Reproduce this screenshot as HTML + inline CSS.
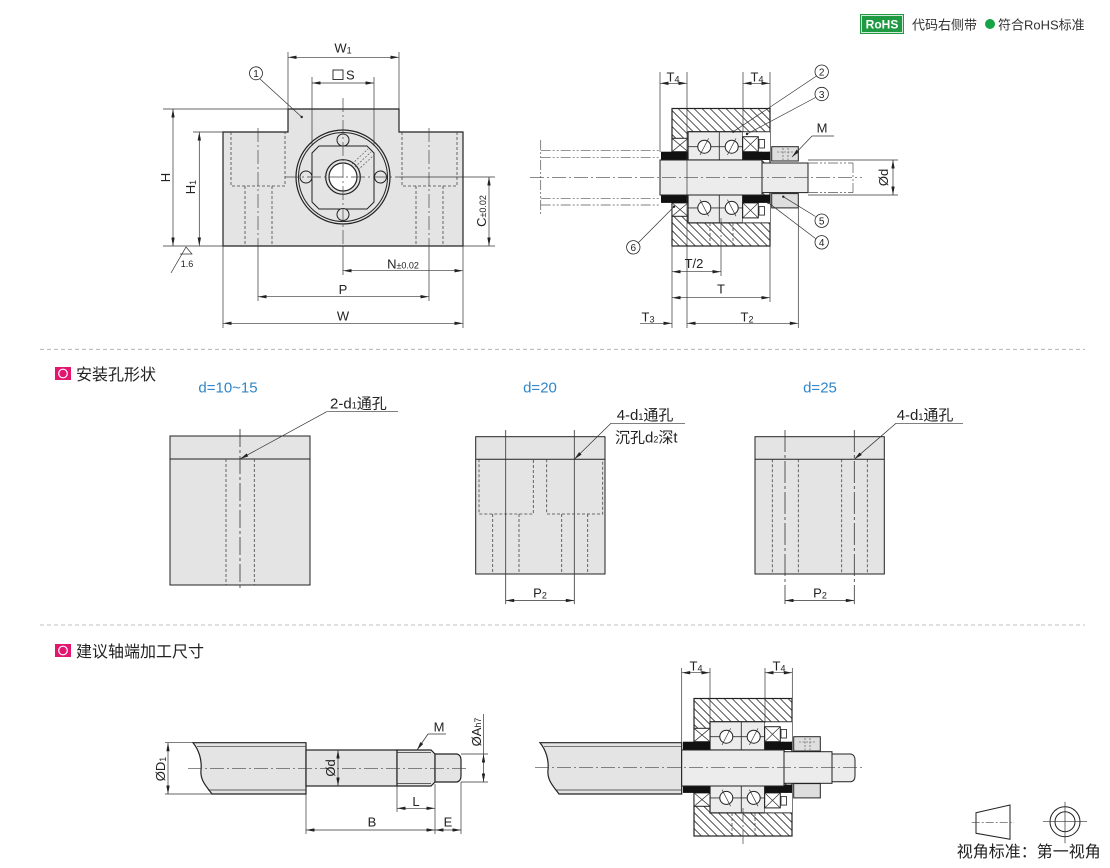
<!DOCTYPE html>
<html><head><meta charset="utf-8">
<style>
html,body{margin:0;padding:0;background:#fff}
svg{display:block}
text{font-family:"Liberation Sans","Noto Sans CJK SC",sans-serif;fill:#222}
.o{stroke:#222;stroke-width:1.2;fill:none}
.t{stroke:#333;stroke-width:0.7;fill:none}
.d{stroke:#444;stroke-width:0.8;stroke-dasharray:3 2;fill:none}
.c{stroke:#444;stroke-width:0.7;stroke-dasharray:14 3 2 3;fill:none}
.p{stroke:#555;stroke-width:0.7;stroke-dasharray:10 2 2 2 2 2;fill:none}
.cj{font-family:"Liberation Sans","Noto Sans CJK SC",sans-serif}
</style></head><body>
<svg width="1110" height="868" viewBox="0 0 1110 868" xmlns="http://www.w3.org/2000/svg" xmlns:xlink="http://www.w3.org/1999/xlink">
<defs>
<marker id="a" viewBox="0 0 10 4" refX="10" refY="2" markerWidth="9" markerHeight="3.4" markerUnits="userSpaceOnUse" orient="auto-start-reverse"><path d="M0,0L10,2L0,4Z" fill="#222"/></marker>
<clipPath id="hc"><rect x="672" y="108.5" width="98" height="137.5"/></clipPath>

<g id="half">
  <rect x="688" y="131.7" width="54.7" height="28.3" class="o" style="fill:#ececec"/>
  <line class="t" x1="719.3" y1="131.7" x2="719.3" y2="160" style="stroke-width:0.9"/>
  <line class="t" x1="688" y1="146.7" x2="742.7" y2="146.7" style="stroke-width:0.9"/>
  <circle cx="704.3" cy="146.7" r="6.5" class="o" style="fill:#fff;stroke-width:1"/>
  <circle cx="731.7" cy="146.7" r="6.5" class="o" style="fill:#fff;stroke-width:1"/>
  <line class="t" x1="700" y1="155" x2="708.6" y2="138.4"/>
  <line class="t" x1="727.4" y1="155" x2="736" y2="138.4"/>
  <rect x="672" y="138.3" width="16" height="13.4" class="o" style="fill:#fff;stroke-width:1"/>
  <path class="t" d="M672,138.3L688,151.7M688,138.3L672,151.7"/>
  <rect x="742.7" y="131.7" width="27.3" height="20" fill="#fff" stroke="none"/>
  <rect x="742.7" y="136.7" width="15.6" height="15" class="o" style="fill:#fff;stroke-width:1"/>
  <path class="t" d="M742.7,136.7L758.3,151.7M758.3,136.7L742.7,151.7"/>
  <rect x="759" y="139.5" width="5.5" height="8.5" class="t" style="fill:#fff;stroke-width:0.9"/>
  <line class="t" x1="742.7" y1="131.7" x2="770" y2="131.7" style="stroke-width:1"/>
  <rect x="661" y="151.7" width="27" height="8.3" fill="#111"/>
  <rect x="742.7" y="151.7" width="27.3" height="8.3" fill="#111"/>
  <rect x="771.7" y="146.7" width="26.6" height="14.3" class="o" style="fill:#dedede;stroke-width:1"/>
</g>

<g id="hs">
  <rect x="672" y="108.5" width="98" height="137.5" fill="#fff"/>
  <path clip-path="url(#hc)" stroke="#333" stroke-width="0.8" fill="none" d="M534,108.5l137.5,137.5M542,108.5l137.5,137.5M550,108.5l137.5,137.5M558,108.5l137.5,137.5M566,108.5l137.5,137.5M574,108.5l137.5,137.5M582,108.5l137.5,137.5M590,108.5l137.5,137.5M598,108.5l137.5,137.5M606,108.5l137.5,137.5M614,108.5l137.5,137.5M622,108.5l137.5,137.5M630,108.5l137.5,137.5M638,108.5l137.5,137.5M646,108.5l137.5,137.5M654,108.5l137.5,137.5M662,108.5l137.5,137.5M670,108.5l137.5,137.5M678,108.5l137.5,137.5M686,108.5l137.5,137.5M694,108.5l137.5,137.5M702,108.5l137.5,137.5M710,108.5l137.5,137.5M718,108.5l137.5,137.5M726,108.5l137.5,137.5M734,108.5l137.5,137.5M742,108.5l137.5,137.5M750,108.5l137.5,137.5M758,108.5l137.5,137.5M766,108.5l137.5,137.5"/>
  <rect x="672" y="108.5" width="98" height="137.5" class="o"/>
  <use xlink:href="#half"/>
  <use xlink:href="#half" transform="matrix(1,0,0,-1,0,354.6)"/>
  <path class="d" d="M710,223V246M733,223V246"/>
  <path class="d" style="stroke-dasharray:2 1.5;stroke-width:0.6" d="M783,148V160M788,148V160M777,152H794"/>
</g>
</defs>

<!-- ===== Header RoHS ===== -->
<rect x="860" y="14" width="44" height="20" fill="#1f9a43"/>
<rect x="861.5" y="15.5" width="41" height="17" fill="none" stroke="#fff" stroke-width="0.8"/>
<text x="882" y="28.5" font-size="12" font-weight="bold" text-anchor="middle" style="fill:#fff">RoHS</text>
<text x="912" y="29.5" font-size="13" class="cj" style="fill:#333">代码右侧带</text>
<circle cx="990" cy="24" r="5" fill="#17a347"/>
<text x="998" y="29.5" font-size="13" class="cj" style="fill:#333">符合RoHS标准</text>

<!-- ===== Front view ===== -->
<path d="M223,132H288V109H399V132H463V246H223Z" class="o" style="fill:#e4e4e4"/>
<path class="d" d="M231,132V186H285V132M245,186V246M272,186V246"/>
<path class="d" d="M402,132V186H457V132M416,186V246M443,186V246"/>
<line class="c" x1="258" y1="128" x2="258" y2="246"/>
<line class="c" x1="429" y1="128" x2="429" y2="246"/>
<line class="t" x1="258" y1="246" x2="258" y2="301"/>
<line class="t" x1="429" y1="246" x2="429" y2="301"/>
<circle cx="343" cy="177" r="47" class="o" style="fill:#e4e4e4"/>
<circle cx="343" cy="177" r="44.5" class="o" style="stroke-width:1"/>
<path class="o" style="stroke-width:1" d="M319,146H367L374,153V202L367,209H319L312,202V153Z"/>
<circle cx="343" cy="177" r="17.3" class="o" style="fill:#e4e4e4"/>
<circle cx="343" cy="177" r="14" class="o" style="fill:#fff"/>
<circle cx="343" cy="140" r="6" class="o" style="fill:#e4e4e4;stroke-width:1"/>
<circle cx="343" cy="214.5" r="6" class="o" style="fill:#e4e4e4;stroke-width:1"/>
<circle cx="306" cy="177" r="6" class="o" style="fill:#e4e4e4;stroke-width:1"/>
<circle cx="380.5" cy="177" r="6" class="o" style="fill:#e4e4e4;stroke-width:1"/>
<path class="d" style="stroke-dasharray:2 1.5;stroke-width:0.6" d="M352,164L368,149M355,167L371,152M358,170L374,155"/>
<line class="c" x1="285" y1="177" x2="400" y2="177"/>
<line class="t" x1="400" y1="177" x2="495" y2="177"/>
<line class="c" x1="343" y1="98" x2="343" y2="246"/>
<line class="t" x1="343" y1="246" x2="343" y2="275"/>
<line class="t" x1="288" y1="52" x2="288" y2="109"/>
<line class="t" x1="399" y1="52" x2="399" y2="109"/>
<line class="t" x1="288" y1="57.3" x2="399" y2="57.3" marker-start="url(#a)" marker-end="url(#a)"/>
<text x="343" y="52.5" font-size="13" text-anchor="middle">W<tspan font-size="9" dy="1">1</tspan></text>
<line class="t" x1="312" y1="77" x2="312" y2="146"/>
<line class="t" x1="374" y1="77" x2="374" y2="146"/>
<line class="t" x1="312" y1="83" x2="374" y2="83" marker-start="url(#a)" marker-end="url(#a)"/>
<rect x="333" y="70" width="10" height="9.5" fill="none" stroke="#222" stroke-width="0.9"/>
<text x="346" y="79.5" font-size="13">S</text>
<line class="t" x1="163" y1="109" x2="288" y2="109"/>
<line class="t" x1="193" y1="132" x2="223" y2="132"/>
<line class="t" x1="163" y1="246" x2="223" y2="246"/>
<line class="t" x1="173" y1="109" x2="173" y2="246" marker-start="url(#a)" marker-end="url(#a)"/>
<line class="t" x1="199.3" y1="132" x2="199.3" y2="246" marker-start="url(#a)" marker-end="url(#a)"/>
<text transform="translate(170,177.5) rotate(-90)" font-size="13" text-anchor="middle">H</text>
<text transform="translate(195,187) rotate(-90)" font-size="13" text-anchor="middle">H<tspan font-size="9" dy="1">1</tspan></text>
<path class="t" d="M171,273L186,247L192,254H180"/>
<text x="187" y="267" font-size="9" text-anchor="middle">1.6</text>
<line class="t" x1="463" y1="246" x2="495" y2="246"/>
<line class="t" x1="489" y1="177" x2="489" y2="246" marker-start="url(#a)" marker-end="url(#a)"/>
<text transform="translate(486,211) rotate(-90)" font-size="13" text-anchor="middle">C<tspan font-size="9">±0.02</tspan></text>
<line class="t" x1="223" y1="246" x2="223" y2="328"/>
<line class="t" x1="463" y1="246" x2="463" y2="328"/>
<line class="t" x1="343" y1="270.7" x2="463" y2="270.7" marker-start="url(#a)" marker-end="url(#a)"/>
<text x="403" y="268.5" font-size="13" text-anchor="middle">N<tspan font-size="9">±0.02</tspan></text>
<line class="t" x1="258" y1="296.7" x2="429" y2="296.7" marker-start="url(#a)" marker-end="url(#a)"/>
<text x="343" y="294" font-size="13" text-anchor="middle">P</text>
<line class="t" x1="223" y1="323.3" x2="463" y2="323.3" marker-start="url(#a)" marker-end="url(#a)"/>
<text x="343" y="320.5" font-size="13" text-anchor="middle">W</text>
<circle cx="256" cy="73.3" r="6.5" fill="#fff" stroke="#222" stroke-width="0.8"/>
<text x="256" y="77" font-size="10" text-anchor="middle">1</text>
<line class="t" x1="260" y1="79" x2="301.7" y2="117"/>
<circle cx="301.7" cy="117" r="1.2" fill="#222"/>

<!-- ===== Side section view ===== -->
<path class="p" d="M540.7,150.7H660M540.7,157.3H660M540.7,198.3H660M540.7,205H660"/>
<line class="p" x1="540.7" y1="140" x2="540.7" y2="215"/>
<use xlink:href="#hs"/>
<rect x="660" y="160" width="102" height="35" class="o" style="fill:#ececec;stroke-width:1"/>
<rect x="762" y="163" width="46" height="29.6" class="o" style="fill:#ececec;stroke-width:1"/>
<path class="p" d="M808,163H853M808,192.6H853M853,163V192.6"/>
<line class="c" x1="530" y1="177.3" x2="862" y2="177.3"/>
<line class="c" x1="721" y1="218" x2="721" y2="246"/>
<line class="t" x1="660" y1="72" x2="660" y2="152"/>
<line class="t" x1="687" y1="72" x2="687" y2="328"/>
<line class="t" x1="743" y1="72" x2="743" y2="132"/>
<line class="t" x1="770" y1="72" x2="770" y2="108"/>
<line class="t" x1="660" y1="83.3" x2="687" y2="83.3" marker-start="url(#a)" marker-end="url(#a)"/>
<line class="t" x1="743" y1="83.3" x2="770" y2="83.3" marker-start="url(#a)" marker-end="url(#a)"/>
<text x="673" y="81.5" font-size="13" text-anchor="middle">T<tspan font-size="9" dy="1">4</tspan></text>
<text x="757" y="81.5" font-size="13" text-anchor="middle">T<tspan font-size="9" dy="1">4</tspan></text>
<line class="t" x1="672" y1="246" x2="672" y2="328"/>
<line class="t" x1="721" y1="246" x2="721" y2="276"/>
<line class="t" x1="770" y1="246" x2="770" y2="302"/>
<line class="t" x1="798.3" y1="208" x2="798.3" y2="328"/>
<line class="t" x1="672" y1="271.7" x2="721" y2="271.7" marker-start="url(#a)" marker-end="url(#a)"/>
<text x="694" y="268" font-size="13" text-anchor="middle">T/2</text>
<line class="t" x1="672" y1="297.7" x2="770" y2="297.7" marker-start="url(#a)" marker-end="url(#a)"/>
<text x="721" y="293.5" font-size="13" text-anchor="middle">T</text>
<line class="t" x1="640" y1="323.3" x2="672" y2="323.3" marker-end="url(#a)"/>
<text x="648" y="321.5" font-size="13" text-anchor="middle">T<tspan font-size="9" dy="1">3</tspan></text>
<line class="t" x1="687" y1="323.3" x2="798.3" y2="323.3" marker-start="url(#a)" marker-end="url(#a)"/>
<text x="747" y="321.5" font-size="13" text-anchor="middle">T<tspan font-size="9" dy="1">2</tspan></text>
<line class="t" x1="808" y1="160" x2="898" y2="160"/>
<line class="t" x1="808" y1="195" x2="898" y2="195"/>
<line class="t" x1="893" y1="160" x2="893" y2="195" marker-start="url(#a)" marker-end="url(#a)"/>
<text transform="translate(888,177.5) rotate(-90)" font-size="13" text-anchor="middle">Ød</text>
<circle cx="821.7" cy="71.7" r="6.7" fill="#fff" stroke="#222" stroke-width="0.8"/>
<text x="821.7" y="75.5" font-size="10" text-anchor="middle">2</text>
<line class="t" x1="816.5" y1="76" x2="733.3" y2="131.7"/>
<circle cx="733.3" cy="131.7" r="1.2" fill="#222"/>
<circle cx="821.7" cy="94" r="6.7" fill="#fff" stroke="#222" stroke-width="0.8"/>
<text x="821.7" y="97.8" font-size="10" text-anchor="middle">3</text>
<line class="t" x1="815.5" y1="97.5" x2="747" y2="134"/>
<circle cx="747" cy="134" r="1.2" fill="#222"/>
<text x="822" y="132.5" font-size="13" text-anchor="middle">M</text>
<line class="t" x1="812" y1="136" x2="834" y2="136"/>
<line class="t" x1="812" y1="136" x2="792" y2="157" marker-end="url(#a)"/>
<circle cx="821.7" cy="220.7" r="6.7" fill="#fff" stroke="#222" stroke-width="0.8"/>
<text x="821.7" y="224.5" font-size="10" text-anchor="middle">5</text>
<line class="t" x1="815.5" y1="216.5" x2="783.3" y2="196.7"/>
<circle cx="783.3" cy="196.7" r="1.2" fill="#222"/>
<circle cx="821.7" cy="242.3" r="6.7" fill="#fff" stroke="#222" stroke-width="0.8"/>
<text x="821.7" y="246" font-size="10" text-anchor="middle">4</text>
<line class="t" x1="815.5" y1="238.5" x2="768.3" y2="202.7"/>
<circle cx="768.3" cy="202.7" r="1.2" fill="#222"/>
<circle cx="633.3" cy="247.3" r="6.7" fill="#fff" stroke="#222" stroke-width="0.8"/>
<text x="633.3" y="251" font-size="10" text-anchor="middle">6</text>
<line class="t" x1="638.5" y1="242.5" x2="674" y2="206.7"/>
<circle cx="674" cy="206.7" r="1.2" fill="#222"/>

<!-- separators -->
<line x1="40" y1="349.3" x2="1085" y2="349.3" stroke="#aaa" stroke-width="0.8" stroke-dasharray="4 3"/>
<line x1="40" y1="625" x2="1085" y2="625" stroke="#aaa" stroke-width="0.8" stroke-dasharray="4 3"/>

<!-- ===== Section 2 ===== -->
<rect x="55" y="367" width="16" height="13" fill="#e2156f"/>
<circle cx="63" cy="373.5" r="4.3" fill="none" stroke="#fff" stroke-width="1.2"/>
<text x="76" y="380" font-size="16" class="cj" style="fill:#222">安装孔形状</text>

<text x="228" y="392.5" font-size="15" text-anchor="middle" style="fill:#2f86c8">d=10~15</text>
<text x="540" y="392.5" font-size="15" text-anchor="middle" style="fill:#2f86c8">d=20</text>
<text x="820" y="392.5" font-size="15" text-anchor="middle" style="fill:#2f86c8">d=25</text>

<rect x="170" y="436" width="140" height="149" class="o" style="fill:#e4e4e4;stroke-width:1"/>
<line class="o" style="stroke-width:1" x1="170" y1="459" x2="310" y2="459"/>
<path class="d" d="M226,459V585M254.3,459V585"/>
<line x1="240" y1="429" x2="240" y2="590" stroke="#333" stroke-width="0.8" stroke-dasharray="18 3 3 3"/>
<text x="330" y="408.5" font-size="15" class="cj">2-d<tspan font-size="9">1</tspan>通孔</text>
<line class="t" x1="326.7" y1="411.7" x2="398" y2="411.7"/>
<line class="t" x1="326.7" y1="411.7" x2="240" y2="459" marker-end="url(#a)"/>

<rect x="475.7" y="436.7" width="129.3" height="137.3" class="o" style="fill:#e4e4e4;stroke-width:1"/>
<line class="o" style="stroke-width:1" x1="475.7" y1="459.3" x2="605" y2="459.3"/>
<path class="d" d="M479,459.3V514H533.3V459.3M546.7,459.3V514H602.7V459.3M492.7,514V574M519,514V574M561.7,514V574M587.7,514V574"/>
<line class="t" x1="505.7" y1="430" x2="505.7" y2="604" style="stroke-width:0.8"/>
<line class="t" x1="574.3" y1="430" x2="574.3" y2="604" style="stroke-width:0.8"/>
<line class="t" x1="505.7" y1="600.5" x2="574.3" y2="600.5" marker-start="url(#a)" marker-end="url(#a)"/>
<text x="540" y="597.5" font-size="13" text-anchor="middle">P<tspan font-size="9" dy="1">2</tspan></text>
<text x="616.7" y="420" font-size="15" class="cj">4-d<tspan font-size="9">1</tspan>通孔</text>
<line class="t" x1="611" y1="423.3" x2="685" y2="423.3"/>
<text x="615" y="442.5" font-size="15" class="cj">沉孔d<tspan font-size="9">2</tspan>深t</text>
<line class="t" x1="611" y1="423.3" x2="574.3" y2="459.3" marker-end="url(#a)"/>

<rect x="755" y="436.7" width="129.3" height="137.3" class="o" style="fill:#e4e4e4;stroke-width:1"/>
<line class="o" style="stroke-width:1" x1="755" y1="459.3" x2="884.3" y2="459.3"/>
<path class="d" d="M772.3,459.3V574M798.3,459.3V574M841.7,459.3V574M867.3,459.3V574"/>
<line x1="785" y1="430" x2="785" y2="604" stroke="#333" stroke-width="0.8" stroke-dasharray="22 3 3 3"/>
<line x1="854.3" y1="430" x2="854.3" y2="604" stroke="#333" stroke-width="0.8" stroke-dasharray="22 3 3 3"/>
<line class="t" x1="785" y1="600.5" x2="854.3" y2="600.5" marker-start="url(#a)" marker-end="url(#a)"/>
<text x="820" y="597.5" font-size="13" text-anchor="middle">P<tspan font-size="9" dy="1">2</tspan></text>
<text x="896.7" y="420" font-size="15" class="cj">4-d<tspan font-size="9">1</tspan>通孔</text>
<line class="t" x1="896" y1="423.3" x2="963" y2="423.3"/>
<line class="t" x1="896" y1="423.3" x2="854.3" y2="459.3" marker-end="url(#a)"/>

<!-- ===== Section 3 ===== -->
<rect x="55" y="644" width="16" height="13" fill="#e2156f"/>
<circle cx="63" cy="650.5" r="4.3" fill="none" stroke="#fff" stroke-width="1.2"/>
<text x="76" y="657" font-size="16" class="cj" style="fill:#222">建议轴端加工尺寸</text>

<path d="M193,742.7H306V794H212C206,786 200,780 201,770C202,760 199,750 193,742.7Z" class="o" style="fill:#e4e4e4"/>
<line class="t" x1="197" y1="746.7" x2="306" y2="746.7"/>
<line class="t" x1="208" y1="790" x2="306" y2="790"/>
<rect x="306" y="750" width="91" height="36" class="o" style="fill:#e4e4e4"/>
<path d="M397,750H431L435,754V782L431,786H397Z" class="o" style="fill:#e4e4e4"/>
<path class="t" d="M397,752.5H431M397,783.5H431"/>
<path d="M435,754H457Q461,755 461,760V776Q461,781 457,782H435Z" class="o" style="fill:#e4e4e4"/>
<line class="c" x1="188" y1="768.3" x2="468" y2="768.3"/>
<line class="t" x1="165" y1="742.7" x2="193" y2="742.7"/>
<line class="t" x1="165" y1="794" x2="212" y2="794"/>
<line class="t" x1="168" y1="742.7" x2="168" y2="794" marker-start="url(#a)" marker-end="url(#a)"/>
<text transform="translate(165,769) rotate(-90)" font-size="13" text-anchor="middle">ØD<tspan font-size="9" dy="1">1</tspan></text>
<line class="t" x1="338" y1="750" x2="338" y2="786" marker-start="url(#a)" marker-end="url(#a)"/>
<text transform="translate(335,768) rotate(-90)" font-size="13" text-anchor="middle">Ød</text>
<text x="439" y="731.5" font-size="13" text-anchor="middle">M</text>
<line class="t" x1="428" y1="734" x2="446" y2="734"/>
<line class="t" x1="428" y1="734" x2="417" y2="750" marker-end="url(#a)"/>
<line class="t" x1="461" y1="754" x2="488" y2="754"/>
<line class="t" x1="461" y1="782" x2="488" y2="782"/>
<line class="t" x1="483.5" y1="754" x2="483.5" y2="782" marker-start="url(#a)" marker-end="url(#a)"/>
<line class="t" x1="483.5" y1="714" x2="483.5" y2="754"/>
<text transform="translate(481,732) rotate(-90)" font-size="13" text-anchor="middle">ØA<tspan font-size="9">h7</tspan></text>
<line class="t" x1="397" y1="786" x2="397" y2="812"/>
<line class="t" x1="435" y1="784" x2="435" y2="834"/>
<line class="t" x1="306" y1="794" x2="306" y2="834"/>
<line class="t" x1="461" y1="782" x2="461" y2="834"/>
<line class="t" x1="397" y1="808.3" x2="435" y2="808.3" marker-start="url(#a)" marker-end="url(#a)"/>
<text x="416" y="806" font-size="13" text-anchor="middle">L</text>
<line class="t" x1="306" y1="830" x2="435" y2="830" marker-start="url(#a)" marker-end="url(#a)"/>
<text x="372" y="826.5" font-size="13" text-anchor="middle">B</text>
<line class="t" x1="435" y1="830" x2="461" y2="830" marker-start="url(#a)" marker-end="url(#a)"/>
<text x="448" y="826.5" font-size="13" text-anchor="middle">E</text>

<!-- bottom right assembly -->
<path d="M540,742.7H681.7V794H559C553,786 547,780 548,770C549,760 546,750 540,742.7Z" class="o" style="fill:#e4e4e4"/>
<line class="t" x1="544" y1="746.7" x2="681.7" y2="746.7"/>
<line class="t" x1="556" y1="790" x2="681.7" y2="790"/>
<use xlink:href="#hs" transform="translate(22,590)"/>
<rect x="681.7" y="750" width="102.3" height="36" class="o" style="fill:#ececec;stroke-width:1"/>
<rect x="784" y="751.7" width="48" height="31.6" class="o" style="fill:#ececec;stroke-width:1"/>
<path d="M832,754H851Q855,755 855,760V776Q855,781 851,781.7H832Z" class="o" style="fill:#ececec;stroke-width:1"/>
<line class="c" x1="535" y1="767.3" x2="862" y2="767.3"/>
<line class="c" x1="743" y1="808" x2="743" y2="846"/>
<line class="t" x1="681.7" y1="668" x2="681.7" y2="742.7"/>
<line class="t" x1="710" y1="668" x2="710" y2="722.7"/>
<line class="t" x1="765" y1="668" x2="765" y2="722.7"/>
<line class="t" x1="792.3" y1="668" x2="792.3" y2="699"/>
<line class="t" x1="681.7" y1="672.7" x2="710" y2="672.7" marker-start="url(#a)" marker-end="url(#a)"/>
<line class="t" x1="765" y1="672.7" x2="792.3" y2="672.7" marker-start="url(#a)" marker-end="url(#a)"/>
<text x="696" y="670.5" font-size="13" text-anchor="middle">T<tspan font-size="9" dy="1">4</tspan></text>
<text x="779" y="670.5" font-size="13" text-anchor="middle">T<tspan font-size="9" dy="1">4</tspan></text>

<!-- view symbol -->
<path class="o" style="stroke-width:1" d="M976,812.7L1010,805V839.3L976,833.3Z"/>
<line class="c" x1="971.7" y1="822.3" x2="1014" y2="822.3" style="stroke-dasharray:8 2 2 2"/>
<circle cx="1065" cy="821.7" r="15" class="o" style="stroke-width:1"/>
<circle cx="1065" cy="821.7" r="10" class="o" style="stroke-width:1"/>
<line class="t" x1="1043" y1="821.7" x2="1087" y2="821.7"/>
<line class="t" x1="1065" y1="801.7" x2="1065" y2="843.3"/>
<text x="956.7" y="857" font-size="16" class="cj">视角标准：第一视角</text>
</svg>
</body></html>
